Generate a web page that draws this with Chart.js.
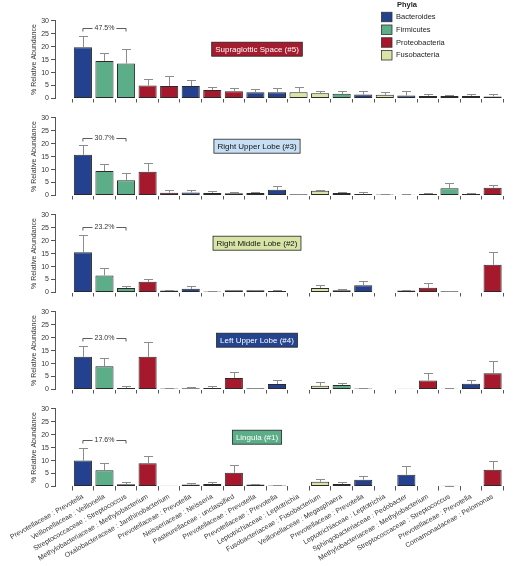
<!DOCTYPE html>
<html>
<head>
<meta charset="utf-8">
<script src="https://cdn.jsdelivr.net/npm/chart.js@4.4.1/dist/chart.umd.min.js"></script>
<style>
  html, body { margin: 0; padding: 0; background: #fff; }
  #wrap { position: relative; width: 514px; height: 566px; overflow: hidden; }
  #wrap canvas { position: absolute; left: 0; }
</style>
</head>
<body>
<div id="wrap"></div>
<script>
// taxa on the x axis (family : genus)
const taxa = [
  'Prevotellaceae : Prevotella', 'Veillonellaceae : Veillonella', 'Streptococcaceae : Streptococcus',
  'Methylobacteriaceae : Methylobacterium', 'Oxalobacteraceae : Janthinobacterium', 'Prevotellaceae : Prevotella',
  'Neisseriaceae : Neisseria', 'Pasteurellaceae : unclassified', 'Prevotellaceae : Prevotella',
  'Prevotellaceae : Prevotella', 'Leptotrichiaceae : Leptotrichia', 'Fusobacteriaceae : Fusobacterium',
  'Veillonellaceae : Megasphaera', 'Prevotellaceae : Prevotella', 'Leptotrichiaceae : Leptotrichia',
  'Sphingobacteriaceae : Pedobacter', 'Methylobacteriaceae : Methylobacterium', 'Streptococcaceae : Streptococcus',
  'Prevotellaceae : Prevotella', 'Comamonadaceae : Pelomonas'
];
const taxonPhylum = [
  'Bacteroides', 'Firmicutes', 'Firmicutes', 'Proteobacteria', 'Proteobacteria', 'Bacteroides',
  'Proteobacteria', 'Proteobacteria', 'Bacteroides', 'Bacteroides', 'Fusobacteria', 'Fusobacteria',
  'Firmicutes', 'Bacteroides', 'Fusobacteria', 'Bacteroides', 'Proteobacteria', 'Firmicutes',
  'Bacteroides', 'Proteobacteria'
];
const phyla = ['Bacteroides', 'Firmicutes', 'Proteobacteria', 'Fusobacteria'];

const sites = ['Supraglottic Space (#5)', 'Right Upper Lobe (#3)', 'Right Middle Lobe (#2)', 'Left Upper Lobe (#4)', 'Lingula (#1)'];
// summed abundance of the first three taxa
const topThree = ['47.5%', '30.7%', '23.2%', '23.0%', '17.6%'];
const yTicks = [0, 5, 10, 15, 20, 25, 30];

// mean % relative abundance and SEM, per site
const supraglotticMean = [19.8, 14.5, 13.5, 5.0, 4.8, 4.8, 3.3, 2.8, 2.4, 2.4, 2.4, 2.0, 1.8, 1.5, 1.4, 1.2, 1.0, 1.0, 1.0, 0.8];
const supraglotticSem  = [4.4, 2.9, 5.4, 2.6, 3.7, 2.5, 1.3, 1.1, 1.2, 1.7, 2.1, 0.8, 0.9, 1.3, 1.0, 1.5, 0.9, 0.5, 0.9, 0.9];
const rulMean = [15.7, 9.4, 5.9, 9.2, 1.1, 1.2, 1.0, 0.9, 1.0, 2.2, 0.5, 1.8, 1.0, 0.6, 0.4, 0.3, 0.6, 2.8, 0.6, 3.0];
const rulSem  = [3.6, 2.9, 2.9, 3.5, 1.1, 0.8, 0.7, 0.6, 0.3, 1.5, 0.1, 0.5, 0.5, 0.8, 0.1, 0.1, 0.2, 2.1, 0.3, 1.0];
const rmlMean = [15.5, 6.6, 1.7, 4.1, 0.8, 1.4, 0.4, 0.9, 0.9, 0.6, 0, 1.7, 0.9, 2.8, 0, 0.8, 1.8, 0.5, 0, 10.7];
const rmlSem  = [6.8, 3.0, 0.7, 1.0, 0.2, 1.0, 0.1, 0.2, 0.2, 0.2, 0, 1.2, 0.4, 1.5, 0, 0.1, 1.8, 0.1, 0, 5.1];
const lulMean = [12.6, 9.0, 0.6, 12.6, 0.4, 0.5, 0.6, 4.4, 0.5, 2.1, 0, 1.4, 1.7, 0.4, 0, 0.3, 3.5, 0.3, 2.2, 6.3];
const lulSem  = [4.3, 3.1, 0.7, 5.9, 0.1, 0.3, 0.8, 2.4, 0.1, 1.6, 0, 1.6, 0.9, 0.1, 0, 0, 2.8, 0.1, 1.5, 4.6];
const lingulaMean = [10.0, 6.3, 0.9, 9.0, 0.25, 0.8, 1.0, 5.3, 0.8, 0.4, 0, 1.8, 1.0, 2.6, 0, 4.5, 0, 0.25, 0, 6.5];
const lingulaSem  = [5.0, 2.9, 0.8, 2.9, 0, 0.4, 0.7, 2.9, 0.1, 0.1, 0, 1.0, 0.7, 1.6, 0, 3.3, 0, 0.05, 0, 3.5];

const panelMeans = [supraglotticMean, rulMean, rmlMean, lulMean, lingulaMean];
const panelSems = [supraglotticSem, rulSem, rmlSem, lulSem, lingulaSem];

// styling
const FONT = '"Liberation Sans", Arial, Helvetica, sans-serif';
const phylumColor = {
  Bacteroides: '#23418e',
  Firmicutes: '#5cae89',
  Proteobacteria: '#a6192d',
  Fusobacteria: '#d9e4a6'
};
const siteFill = ['#a51c2f', '#c7dff4', '#d8e4a6', '#25448f', '#5cae89'];
const siteInk = ['#fff', '#111', '#111', '#fff', '#fff'];
const AXIS = '#555';

const wrap = document.getElementById('wrap');

function drawLegend(ctx) {
  ctx.save();
  ctx.textBaseline = 'middle';
  ctx.textAlign = 'left';
  ctx.fillStyle = '#222';
  ctx.font = 'bold 7.5px ' + FONT;
  ctx.fillText('Phyla', 397, 5);
  ctx.font = '7.5px ' + FONT;
  phyla.forEach(function (p, k) {
    var cy = 17 + k * 12.75;
    ctx.fillStyle = phylumColor[p];
    ctx.fillRect(381.5, cy - 4.75, 10.5, 9.5);
    ctx.strokeStyle = '#333';
    ctx.lineWidth = 0.8;
    ctx.strokeRect(381.5, cy - 4.75, 10.5, 9.5);
    ctx.fillStyle = '#222';
    ctx.fillText(p, 396, cy);
  });
  ctx.restore();
}

function panelPlugin(i) {
  var mean = panelMeans[i], sem = panelSems[i];
  return {
    id: 'panelDecor' + i,
    afterDatasetsDraw: function (chart) {
      var ctx = chart.ctx, x = chart.scales.x, y = chart.scales.y, area = chart.chartArea;
      var meta = chart.getDatasetMeta(0);

      // SEM whiskers (upper only)
      ctx.save();
      ctx.strokeStyle = '#8c8c8c';
      ctx.lineWidth = 1;
      meta.data.forEach(function (bar, k) {
        if (!sem[k]) return;
        var px = Math.round(bar.x) + 0.5;
        var top = Math.round(y.getPixelForValue(mean[k] + sem[k])) + 0.5;
        ctx.beginPath();
        ctx.moveTo(px, bar.y);
        ctx.lineTo(px, top);
        ctx.moveTo(px - 4.5, top);
        ctx.lineTo(px + 4.5, top);
        ctx.stroke();
      });
      ctx.restore();

      // bracket over the first three taxa
      var by = Math.round(y.getPixelForValue(mean[0] + sem[0] + 2.8)) + 0.5;
      var x0 = x.getPixelForValue(0), x1 = x.getPixelForValue(2);
      var mid = (x0 + x1) / 2;
      ctx.save();
      ctx.font = '7px ' + FONT;
      ctx.fillStyle = '#333';
      ctx.textAlign = 'center';
      ctx.textBaseline = 'middle';
      var tw = ctx.measureText(topThree[i]).width;
      ctx.fillText(topThree[i], mid, by);
      ctx.strokeStyle = '#333';
      ctx.lineWidth = 0.8;
      ctx.beginPath();
      ctx.moveTo(x0, by + 3); ctx.lineTo(x0, by); ctx.lineTo(mid - tw / 2 - 2, by);
      ctx.moveTo(mid + tw / 2 + 2, by); ctx.lineTo(x1, by); ctx.lineTo(x1, by + 3);
      ctx.stroke();
      ctx.restore();

      // site label box
      ctx.save();
      ctx.font = '8px ' + FONT;
      var lw = ctx.measureText(sites[i]).width + 7;
      var cx = 257, cy = area.top + 28.5;
      ctx.fillStyle = siteFill[i];
      ctx.fillRect(cx - lw / 2, cy - 7, lw, 14);
      ctx.strokeStyle = '#222';
      ctx.lineWidth = 0.8;
      ctx.strokeRect(cx - lw / 2, cy - 7, lw, 14);
      ctx.fillStyle = siteInk[i];
      ctx.textAlign = 'center';
      ctx.textBaseline = 'middle';
      ctx.fillText(sites[i], cx, cy + 0.5);
      ctx.restore();

      if (i === 0) drawLegend(ctx);
    }
  };
}

panelMeans.forEach(function (mean, i) {
  var last = i === panelMeans.length - 1;
  var canvas = document.createElement('canvas');
  var h = last ? 566 - 97 * i : 106;
  canvas.width = 514;
  canvas.height = h;
  canvas.style.top = (97 * i) + 'px';
  wrap.appendChild(canvas);

  new Chart(canvas, {
    type: 'bar',
    data: {
      datasets: [{
        data: mean.map(function (v, k) { return { x: k, y: v }; }),
        backgroundColor: taxonPhylum.map(function (p) { return phylumColor[p]; }),
        borderColor: '#2a2a2a',
        borderWidth: 1,
        borderSkipped: false,
        categoryPercentage: 1,
        barPercentage: 0.84
      }]
    },
    options: {
      responsive: false,
      animation: false,
      layout: { padding: { top: 20.7, left: 0, right: 0, bottom: 0 } },
      plugins: { legend: { display: false }, tooltip: { enabled: false } },
      scales: {
        x: {
          type: 'linear',
          min: -0.762,
          max: 19.46,
          afterBuildTicks: function (s) { s.ticks = taxa.map(function (_, k) { return { value: k }; }); },
          afterFit: function (s) {
            s.height = h - 20.7 - 77.8;
            s.paddingLeft = 0;
            s.paddingRight = 0;
          },
          border: { display: false },
          grid: { drawOnChartArea: false, drawTicks: true, tickLength: 4, color: AXIS },
          ticks: {
            display: last,
            autoSkip: false,
            minRotation: 30,
            maxRotation: 30,
            padding: 2,
            color: '#333',
            font: { family: FONT, size: 7 },
            callback: function (v) { return taxa[v]; }
          }
        },
        y: {
          min: 0,
          max: 30,
          afterBuildTicks: function (s) { s.ticks = yTicks.map(function (v) { return { value: v }; }); },
          afterFit: function (s) { s.width = 55; },
          border: { color: AXIS },
          grid: { drawOnChartArea: false, tickLength: 4, color: AXIS },
          ticks: { padding: 2, color: '#333', font: { family: FONT, size: 7 } },
          title: {
            display: true,
            text: '% Relative Abundance',
            color: '#333',
            font: { family: FONT, size: 7 },
            padding: { top: 30, bottom: 0 }
          }
        }
      }
    },
    plugins: [panelPlugin(i)]
  });
});
</script>
</body>
</html>
